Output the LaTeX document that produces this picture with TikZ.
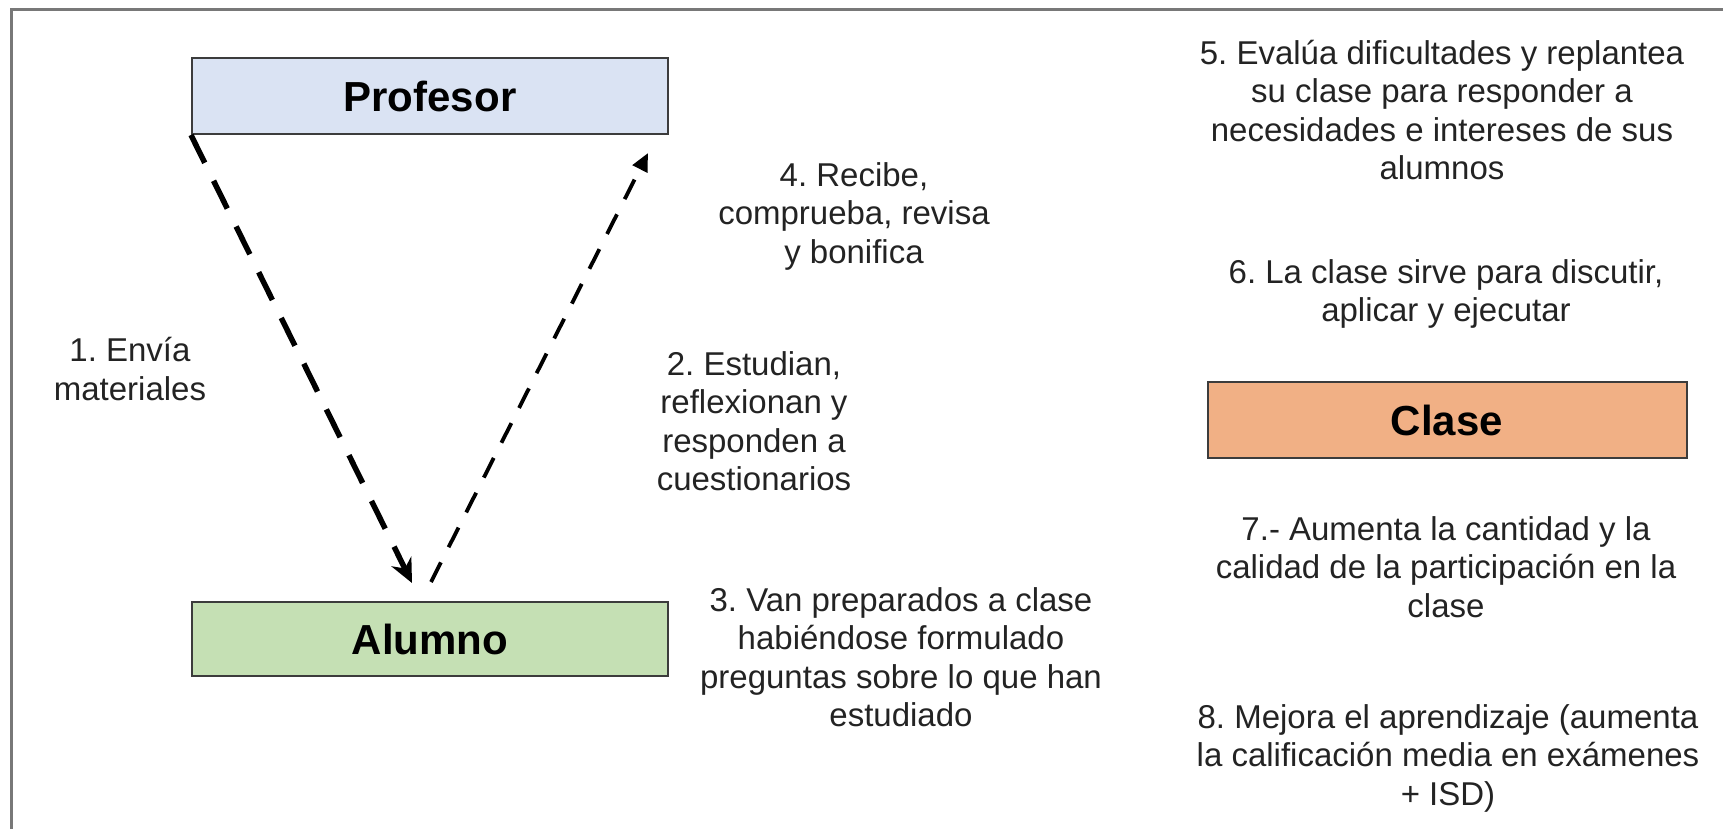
\documentclass[tikz,border=0pt]{standalone}
\usepackage{fontspec}
\setmainfont{Liberation Sans}
\usetikzlibrary{arrows.meta}
\frenchspacing
\definecolor{profblue}{RGB}{218,227,243}
\definecolor{alugreen}{RGB}{197,224,180}
\definecolor{claseorange}{RGB}{241,176,133}
\definecolor{bordergray}{RGB}{120,120,120}
\definecolor{boxline}{RGB}{60,60,60}
\definecolor{txtgray}{RGB}{35,35,35}
\tikzset{
  actor/.style={draw=boxline, line width=2pt, inner sep=0pt, font=\fontsize{42}{48}\selectfont\bfseries, text=black},
  note/.style={align=center, inner sep=0pt, text=txtgray, font=\fontsize{33}{38.5}\selectfont},
  dasharrow/.style={draw=black, dash pattern=on 31pt off 20pt, line width=5.5pt, -{Stealth[length=24pt,width=22pt]}},
  thinarrow/.style={draw=black, dash pattern=on 22pt off 17pt, line width=3.8pt, -{Triangle[length=18pt,width=16pt]}}
}
\begin{document}
\begin{tikzpicture}[x=1pt,y=-1pt]
\useasboundingbox (0,0) rectangle (1723,829);
\draw[bordergray, line width=3pt] (11,829) -- (11,10) -- (1723,10);

\node[actor, fill=profblue, minimum width=476pt, minimum height=76pt] (prof) at (430,96) {Profesor};
\node[actor, fill=alugreen, minimum width=476pt, minimum height=74pt] (alum) at (430,639) {Alumno};
\node[actor, fill=claseorange, minimum width=479pt, minimum height=76pt] (clase) at (1447,420) {Clase};

\coordinate (a1end) at (412,583);
\coordinate (a2start) at (431,582);
\coordinate (a2end) at (648,153);
\draw[dasharrow] (prof.south west) -- (a1end);
\draw[thinarrow] (a2start) -- (a2end);

\node[note] (n1) at (130,369) {1. Envía\\materiales};
\node[note] (n4) at (854,216) {4. Recibe,\\comprueba, revisa\\y bonifica};
\node[note] (n2) at (754,421) {2. Estudian,\\reflexionan y\\responden a\\cuestionarios};
\node[note] (n3) at (901,657) {3. Van preparados a clase\\habiéndose formulado\\preguntas sobre lo que han\\estudiado};
\node[note] (n5) at (1442,110) {5. Evalúa dificultades y replantea\\su clase para responder a\\necesidades e intereses de sus\\alumnos};
\node[note] (n6) at (1446,294) {6. La clase sirve para discutir,\\aplicar y ejecutar};
\node[note] (n7) at (1446,567) {7.- Aumenta la cantidad y la\\calidad de la participación en la\\clase};
\node[note] (n8) at (1448,758) {8. Mejora el aprendizaje (aumenta\\la calificación media en exámenes\\+ ISD)};
\end{tikzpicture}
\end{document}
